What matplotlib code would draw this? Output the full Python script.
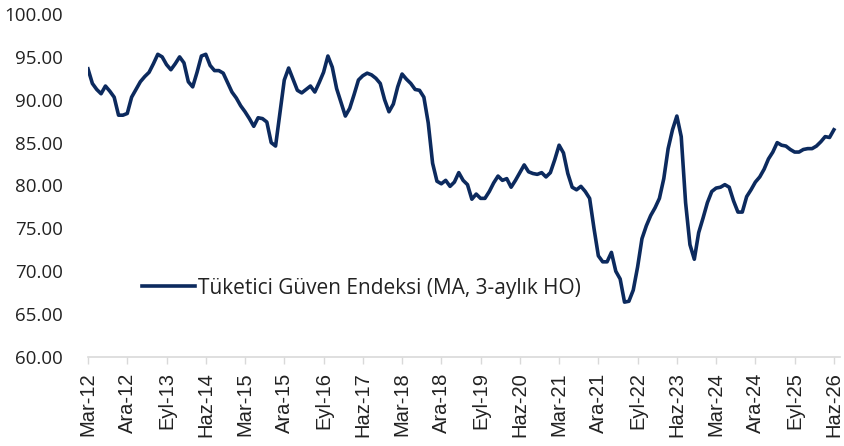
import matplotlib.pyplot as plt
import numpy as np

plt.rcParams['font.family'] = ['Open Sans', 'DejaVu Sans']

# aylik seri, Mar-12 .. Haz-26
guven = [
    93.6, 91.9, 91.2, 90.7, 91.6, 91.0, 90.3, 88.2, 88.2, 88.4,
    90.3, 91.2, 92.1, 92.7, 93.2, 94.2, 95.3, 95.0, 94.1, 93.5,
    94.2, 95.0, 94.3, 92.1, 91.5, 93.2, 95.1, 95.3, 94.0, 93.4,
    93.4, 93.1, 92.0, 90.9, 90.2, 89.3, 88.6, 87.8, 86.9, 87.9,
    87.8, 87.4, 85.0, 84.6, 88.5, 92.3, 93.7, 92.4, 91.1, 90.8,
    91.2, 91.6, 90.9, 92.0, 93.2, 95.1, 93.8, 91.3, 89.7, 88.1,
    89.0, 90.6, 92.3, 92.8, 93.1, 92.9, 92.5, 91.9, 90.0, 88.6,
    89.5, 91.5, 93.0, 92.4, 91.9, 91.2, 91.1, 90.3, 87.3, 82.6,
    80.5, 80.2, 80.6, 79.9, 80.4, 81.5, 80.6, 80.1, 78.4, 79.0,
    78.5, 78.5, 79.3, 80.3, 81.1, 80.6, 80.8, 79.8, 80.6, 81.5,
    82.4, 81.6, 81.4, 81.3, 81.5, 81.0, 81.5, 83.0, 84.7, 83.8,
    81.4, 79.8, 79.5, 79.9, 79.3, 78.5, 75.0, 71.8, 71.1, 71.1,
    72.2, 70.0, 69.1, 66.4, 66.5, 67.8, 70.5, 73.8, 75.3, 76.5,
    77.4, 78.5, 80.8, 84.3, 86.5, 88.1, 85.7, 78.0, 73.1, 71.4,
    74.5, 76.2, 78.0, 79.3, 79.7, 79.8, 80.1, 79.8, 78.2, 76.9,
    76.9, 78.7, 79.5, 80.4, 81.0, 81.9, 83.1, 83.9, 85.0, 84.7,
    84.6, 84.2, 83.9, 83.9, 84.2, 84.3, 84.3, 84.6, 85.1, 85.7,
    85.6, 86.5,
]

etiketler = ['Mar-12', 'Ara-12', 'Eyl-13', 'Haz-14', 'Mar-15', 'Ara-15',
             'Eyl-16', 'Haz-17', 'Mar-18', 'Ara-18', 'Eyl-19', 'Haz-20',
             'Mar-21', 'Ara-21', 'Eyl-22', 'Haz-23', 'Mar-24', 'Ara-24',
             'Eyl-25', 'Haz-26']
adim = 9

x = np.arange(len(guven))

fig = plt.figure(figsize=(8.44, 4.46), dpi=100)
ax = fig.add_axes([88 / 844, 89 / 446, 752 / 844, 343 / 446])

ax.plot(x, guven, color='#0c2a5e', lw=2.6, solid_joinstyle='round',
        label='Tüketici Güven Endeksi (MA, 3-aylık HO)')

ax.set_ylim(60, 100)
ax.set_yticks(np.arange(60, 101, 5))
ax.set_yticklabels([f'{v:.2f}' for v in np.arange(60, 101, 5)])
ax.set_xlim(0, 172.4)
ax.set_xticks(np.arange(0, len(guven), adim))
ax.set_xticklabels(etiketler, rotation=90, family='Liberation Sans')

for s in ['top', 'right', 'left']:
    ax.spines[s].set_visible(False)
ax.spines['bottom'].set_color('#d9d9d9')
ax.spines['bottom'].set_linewidth(1.2)
ax.tick_params(axis='y', length=0, pad=18, labelsize=13.5, labelcolor='#222222')
ax.tick_params(axis='x', length=5, color='#d9d9d9', width=1, pad=6,
               labelsize=14.5, labelcolor='#222222')

ax.legend(loc='center left', bbox_to_anchor=(0.072, 0.201), frameon=False,
          fontsize=15, handlelength=2.55, handletextpad=0.15, borderpad=0,
          borderaxespad=0, labelcolor='#222222')

fig.savefig('out.png', dpi=100)
